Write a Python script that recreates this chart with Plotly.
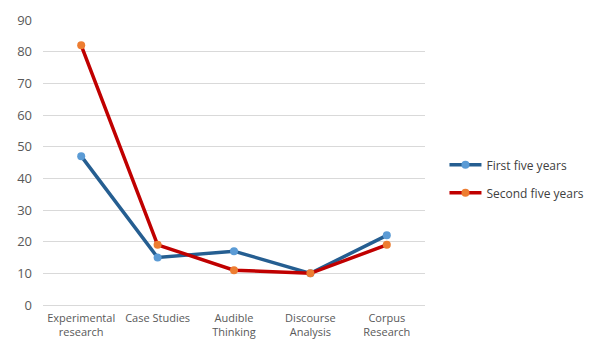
import plotly.graph_objects as go

categories = ["Experimental<br>research", "Case Studies", "Audible<br>Thinking",
              "Discourse<br>Analysis", "Corpus<br>Research"]
first_five_years = [47, 15, 17, 10, 22]
second_five_years = [82, 19, 11, 10, 19]
y_ticks = [0, 10, 20, 30, 40, 50, 60, 70, 80, 90]

fig = go.Figure()
fig.add_trace(go.Scatter(
    x=categories, y=first_five_years, name="First five years",
    legendgroup="first", mode="lines+markers",
    line=dict(color="#255E91", width=3.5),
    marker=dict(color="#5B9BD5", size=8),
))
fig.add_trace(go.Scatter(
    x=categories, y=second_five_years, name="Second five years",
    legendgroup="second", mode="lines+markers",
    line=dict(color="#C00000", width=3.5),
    marker=dict(color="#ED7D31", size=8),
))

fig.update_layout(
    width=595, height=342,
    margin=dict(l=43, r=170, t=20, b=37),
    plot_bgcolor="white", paper_bgcolor="white",
    font=dict(family="Open Sans, Liberation Sans, sans-serif", color="#595959"),
    showlegend=True,
    legend=dict(
        xref="container", yref="container",
        x=0.747, y=0.477, xanchor="left", yanchor="middle",
        font=dict(size=12, color="#404040"),
        tracegroupgap=9, itemwidth=32,
        bgcolor="rgba(0,0,0,0)",
    ),
)
fig.update_xaxes(
    type="category", range=[-0.5, 4.5], automargin=False,
    showgrid=False, showline=False, zeroline=False,
    tickfont=dict(size=11, color="#595959"),
    ticks="", ticklabelstandoff=5,
)
fig.update_yaxes(
    range=[0, 90], tickvals=y_ticks, automargin=False,
    showgrid=True, gridcolor="#D9D9D9", gridwidth=1,
    zeroline=True, zerolinecolor="#D9D9D9", zerolinewidth=1,
    showline=False,
    tickfont=dict(size=13, color="#595959"),
    ticks="", ticklabelstandoff=10,
)

fig.write_html("out.html")
